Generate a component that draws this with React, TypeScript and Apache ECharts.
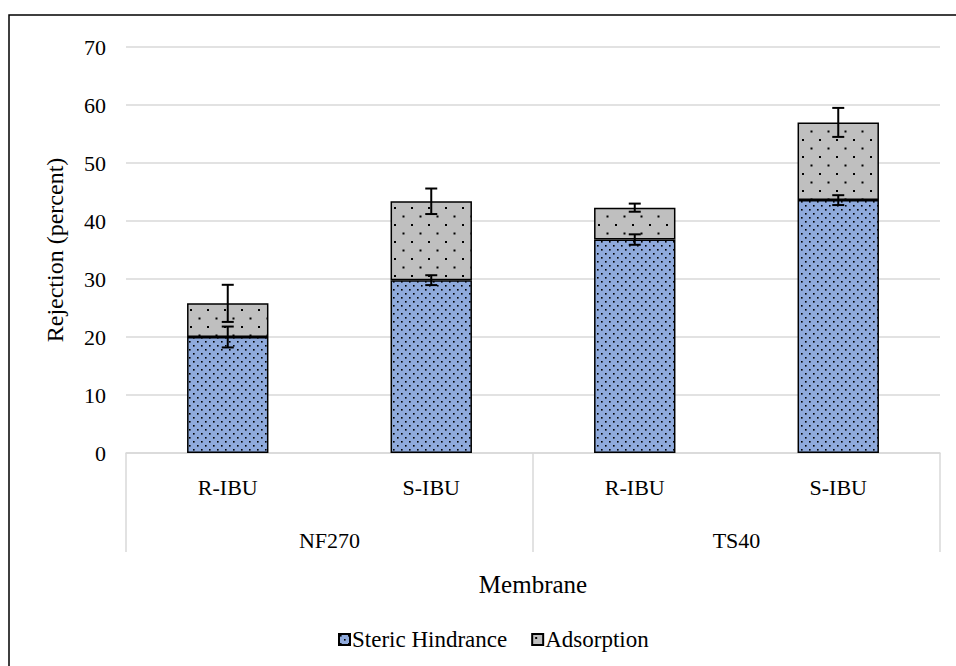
import React, { useEffect, useRef } from "react";
import * as echarts from "echarts";

const categories = ["R-IBU", "S-IBU", "R-IBU", "S-IBU"];
const groups = ["NF270", "TS40"];
const stericValues = [20.0, 29.8, 36.8, 43.6];
const adsorptionValues = [5.8, 13.6, 5.5, 13.4];
const stericErrors = [1.8, 0.85, 0.9, 0.85];
const adsorptionErrors = [3.2, 2.2, 0.7, 2.5];
const yTicks = { min: 0, max: 70, interval: 10 };

const FONT = "Liberation Serif";

function makeTile(w: number, h: number, bg: string, dots: [number, number][], size: number) {
  const c = document.createElement("canvas");
  c.width = w;
  c.height = h;
  const ctx = c.getContext("2d")!;
  ctx.fillStyle = bg;
  ctx.fillRect(0, 0, w, h);
  ctx.fillStyle = "#000";
  dots.forEach(([x, y]) => ctx.fillRect(x, y, size, size));
  return c;
}

export default function App() {
  const ref = useRef<HTMLDivElement>(null);
  useEffect(() => {
    if (!ref.current) return;
    const chart = echarts.init(ref.current, null, { renderer: "svg" });
    const blueTile = makeTile(8, 8, "#8FAADC", [[1, 1], [5, 5]], 1.6);
    const grayTile = makeTile(17, 17, "#BFBFBF", [[3, 3], [11.5, 11.5]], 2);
    const bluePattern = { image: blueTile, repeat: "repeat" };
    const grayPattern = { image: grayTile, repeat: "repeat" };
    const totals = stericValues.map((v, i) => v + adsorptionValues[i]);

    const errSeries = (name: string, centers: number[], errs: number[]) => ({
      type: "custom",
      name,
      xAxisIndex: 0,
      yAxisIndex: 0,
      z: 10,
      silent: true,
      data: centers.map((c, i) => [i, c, errs[i]]),
      renderItem: (params: any, api: any) => {
        const x = api.value(0);
        const c = api.value(1);
        const e = api.value(2);
        const top = api.coord([x, c + e]);
        const bot = api.coord([x, c - e]);
        const hw = 6;
        const style = { stroke: "#000", lineWidth: 2 };
        return {
          type: "group",
          children: [
            { type: "line", shape: { x1: top[0], y1: top[1], x2: bot[0], y2: bot[1] }, style },
            { type: "line", shape: { x1: top[0] - hw, y1: top[1], x2: top[0] + hw, y2: top[1] }, style },
            { type: "line", shape: { x1: bot[0] - hw, y1: bot[1], x2: bot[0] + hw, y2: bot[1] }, style },
          ],
        };
      },
    });

    chart.setOption({
      animation: false,
      textStyle: { fontFamily: FONT },
      grid: { left: 126, right: 16, top: 47, bottom: 213, containLabel: false },
      graphic: [
        {
          type: "rect",
          shape: { x: 9, y: 15, width: 1000, height: 1000 },
          style: { fill: "none", stroke: "#000", lineWidth: 1.5 },
          silent: true,
        },
      ],
      legend: {
        left: 333,
        top: 623,
        itemWidth: 11,
        itemHeight: 11,
        itemGap: 24,
        icon: "rect",
        data: ["Steric Hindrance", "Adsorption"],
        textStyle: { fontFamily: FONT, fontSize: 23, color: "#000", padding: [0, 0, 0, -3] },
      },
      xAxis: [
        {
          type: "category",
          data: categories,
          position: "bottom",
          axisLine: { lineStyle: { color: "#D9D9D9", width: 1.5 } },
          axisTick: { show: false },
          axisLabel: { fontFamily: FONT, fontSize: 22, color: "#000", margin: 23 },
          name: "Membrane",
          nameLocation: "middle",
          nameGap: 119,
          nameTextStyle: { fontFamily: FONT, fontSize: 25, color: "#000" },
        },
        {
          type: "category",
          data: groups,
          position: "bottom",
          axisLine: { show: false },
          axisTick: { show: true, length: 99, lineStyle: { color: "#D9D9D9", width: 1.5 } },
          axisLabel: { fontFamily: FONT, fontSize: 22, color: "#000", margin: 76 },
        },
      ],
      yAxis: {
        type: "value",
        min: yTicks.min,
        max: yTicks.max,
        interval: yTicks.interval,
        axisLine: { show: false },
        axisTick: { show: false },
        splitLine: { lineStyle: { color: "#D9D9D9", width: 1.5 } },
        axisLabel: { fontFamily: FONT, fontSize: 22, color: "#000", margin: 20 },
        name: "Rejection (percent)",
        nameLocation: "middle",
        nameGap: 59,
        nameTextStyle: { fontFamily: FONT, fontSize: 24, color: "#000" },
      },
      series: [
        {
          type: "bar",
          name: "Steric Hindrance",
          stack: "a",
          barWidth: "40%",
          data: stericValues,
          itemStyle: { color: bluePattern, borderColor: "#000", borderWidth: 1.5 },
        },
        {
          type: "bar",
          name: "Adsorption",
          stack: "a",
          barWidth: "40%",
          data: adsorptionValues,
          itemStyle: { color: grayPattern, borderColor: "#000", borderWidth: 1.5 },
        },
        errSeries("stericErr", stericValues, stericErrors),
        errSeries("adsErr", totals, adsorptionErrors),
      ],
    });
    return () => chart.dispose();
  }, []);
  return (
    <div
      ref={ref}
      style={{ position: "fixed", left: 0, top: 0, width: 956, height: 666, background: "#fff" }}
    />
  );
}
